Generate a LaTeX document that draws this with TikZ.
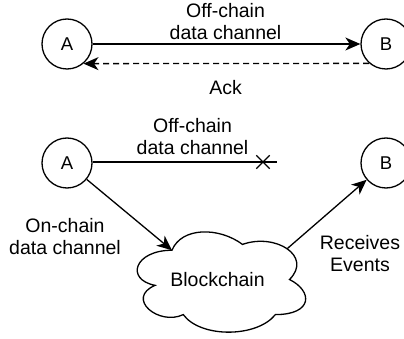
\documentclass[tikz,border=0pt]{standalone}
\usepackage{fontspec}
\setmainfont{Liberation Sans}
\usetikzlibrary{arrows.meta,shapes.misc}
\begin{document}
\begin{tikzpicture}[x=1pt,y=-1pt,
  party/.style={circle,draw,line width=1.3pt,minimum size=50pt,inner sep=0pt,font=\fontsize{18.5}{21}\selectfont},
  lbl/.style={align=center,inner sep=0pt,anchor=south,font=\fontsize{19.5}{22.5}\selectfont},
  conn/.style={line width=1.3pt},
  arr/.style={conn,-{Stealth[length=15pt,width=13pt,inset=4.5pt]}},
  dsh/.style={dash pattern=on 6pt off 4pt}]
\useasboundingbox (0,0) rectangle (404,339);
% top row
\node[party] (A1) at (67,44) {A};
\node[party] (B1) at (386,44) {B};
\draw[arr] (A1) -- (B1);
\draw[arr,dsh] (B1.229.5) -- (A1.310.5);
\node[lbl] (t1) at (225.5,40) {Off-chain\\data channel};
\node[lbl] (ack) at (225.5,95) {Ack};
% bottom row
\node[party] (A2) at (67,163) {A};
\node[party] (B2) at (386,163) {B};
\coordinate (xend) at (277,162);
\draw[conn] (A2.east |- xend) -- (xend);
\node[cross out,draw,line width=1.3pt,minimum size=12pt,inner sep=0pt] (xx) at (263,162) {};
\node[lbl] (t2) at (192.5,155) {Off-chain\\data channel};
% cloud
\begin{scope}[shift={(125,221)},x=188pt,y=-117pt]
\draw[conn] (0.25,0.25)
  .. controls (0.05,0.25) and (0,0.5) .. (0.16,0.55)
  .. controls (0,0.66) and (0.18,0.9) .. (0.31,0.8)
  .. controls (0.4,1) and (0.7,1) .. (0.8,0.8)
  .. controls (1,0.8) and (1,0.6) .. (0.875,0.5)
  .. controls (1,0.3) and (0.8,0.1) .. (0.625,0.2)
  .. controls (0.5,0.05) and (0.3,0.05) .. (0.25,0.25) -- cycle;
\coordinate (cin) at (0.25,0.25);
\coordinate (cout) at (0.862,0.2375);
\end{scope}
\node[font=\fontsize{19.5}{22.5}\selectfont,inner sep=0pt] (bc) at (217.5,280) {Blockchain};
\draw[arr] (A2) -- (cin);
\draw[arr] (cout) -- (B2);
\node[lbl] (on) at (65,255) {On-chain\\data channel};
\node[lbl] (rcv) at (360,272) {Receives\\Events};
\end{tikzpicture}
\end{document}
